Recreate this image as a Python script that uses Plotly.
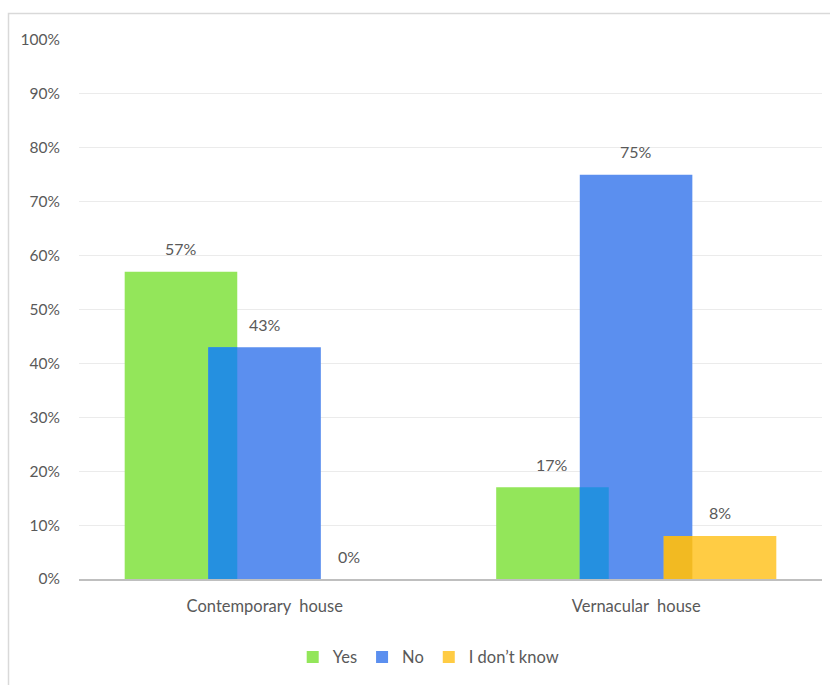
import plotly.graph_objects as go

categories = ["Contemporary  house", "Vernacular  house"]
series_names = ["Yes", "No", "I don\u2019t know"]
yes_vals = [57, 17]
no_vals = [43, 75]
idk_vals = [0, 8]
y_ticks = [0, 10, 20, 30, 40, 50, 60, 70, 80, 90, 100]

colors = ["#93E65A", "#5B8FEF", "#FFCC44"]
overlap_colors = ["#2590E0", "#F2BA22"]
BAR_W = 0.303
offsets = [-0.377, -0.152, 0.074]
series = [yes_vals, no_vals, idk_vals]

W, H = 830, 685
ML, MR, MT, MB = 79, 8, 40, 106
FONT = "Lato, 'Open Sans', sans-serif"
GREY = "#595959"

fig = go.Figure()
for name, vals, col, off in zip(series_names, series, colors, offsets):
    fig.add_trace(go.Bar(
        x=categories, y=vals, name=name, marker=dict(color=col, line=dict(width=0)),
        width=[BAR_W] * len(vals), offset=[off] * len(vals), hoverinfo="skip"))

# overlap regions (darker where adjacent bars overlap)
for i in range(2):
    a, b = series[i], series[i + 1]
    ov_w = offsets[i] + BAR_W - offsets[i + 1]
    fig.add_trace(go.Bar(
        x=categories, y=[min(p, q) for p, q in zip(a, b)], showlegend=False,
        marker=dict(color=overlap_colors[i], line=dict(width=0)),
        width=[ov_w] * len(a), offset=[offsets[i + 1]] * len(a), hoverinfo="skip"))

# value labels
for vals, off in zip(series, offsets):
    for ci, v in enumerate(vals):
        fig.add_annotation(x=ci + off + BAR_W / 2, y=v, text=f"{v}%", showarrow=False,
                           xref="x", yref="y", yanchor="middle", yshift=23,
                           font=dict(family=FONT, size=16, color=GREY))

pw = W - ML - MR
ph = H - MT - MB
fig.add_shape(type="rect", xref="paper", yref="paper",
              x0=(8.5 - ML) / pw, x1=1.1, y0=-0.3, y1=(H - MB - 13.5) / ph,
              line=dict(color="#D9D9D9", width=1.5), fillcolor="rgba(0,0,0,0)", layer="below")

fig.update_layout(
    width=W, height=H, barmode="overlay",
    margin=dict(l=ML, r=MR, t=MT, b=MB),
    paper_bgcolor="white", plot_bgcolor="white",
    font=dict(family=FONT, size=15, color=GREY),
    showlegend=True,
    legend=dict(orientation="h", x=0.47, xanchor="center", y=-0.145, yanchor="middle",
                font=dict(family=FONT, size=16.5, color=GREY), itemwidth=30,
                traceorder="normal"),
    xaxis=dict(type="category", range=[-0.5, 1.5], showgrid=False, showline=True,
               linecolor="#BFBFBF", linewidth=2, ticks="outside", ticklen=11,
               tickcolor="rgba(0,0,0,0)", tickfont=dict(size=16.5),
               fixedrange=True),
    yaxis=dict(range=[0, 100], tickvals=y_ticks, ticktext=[f"{t}%" for t in y_ticks],
               showgrid=True, gridcolor="#EBEBEB", gridwidth=1, zeroline=False,
               ticks="outside", ticklen=15, tickcolor="rgba(0,0,0,0)",
               tickfont=dict(size=15.5)),
)

fig.write_html("out.html")
